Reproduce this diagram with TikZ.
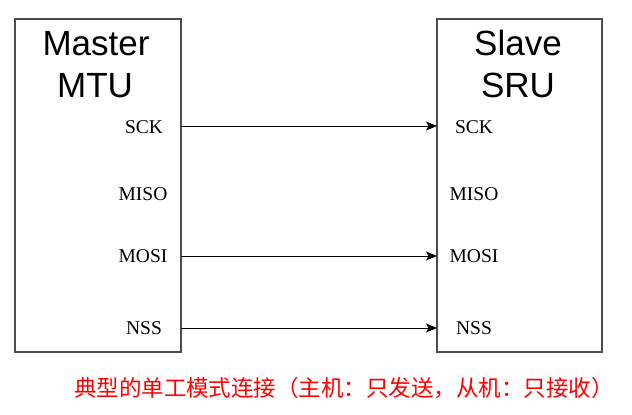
\documentclass[tikz,border=0pt]{standalone}
\usepackage{fontspec}
\setmainfont{Liberation Serif}
\newfontfamily\titlefont{Liberation Sans}
\newfontfamily\cjkfont{Noto Sans CJK SC}
\usetikzlibrary{arrows.meta}
\begin{document}
\begin{tikzpicture}[x=1pt,y=-1pt,
  unitbox/.style={draw=black!70,line width=1.3pt},
  titletext/.style={font=\titlefont\fontsize{35}{38}\selectfont,anchor=base,inner sep=0pt},
  pintext/.style={font=\fontsize{19.5}{22}\selectfont,anchor=base,inner sep=0pt},
  wire/.style={line width=1pt,-{Stealth[length=11pt,width=9pt,inset=2.5pt]}}]
\useasboundingbox (0,0) rectangle (632,415);
\draw[unitbox] (15,19) rectangle (181,352);
\draw[unitbox] (437,19) rectangle (602,352);
\node[titletext] (mt1) at (96,55) {Master};
\node[titletext] (mt2) at (95,97) {MTU};
\node[titletext] (st1) at (518,55) {Slave};
\node[titletext] (st2) at (518,97) {SRU};
\node[pintext] (msck) at (144,133) {SCK};
\node[pintext] (mmiso) at (143,200) {MISO};
\node[pintext] (mmosi) at (143,262) {MOSI};
\node[pintext] (mnss) at (144,334) {NSS};
\node[pintext] (ssck) at (474,133) {SCK};
\node[pintext] (smiso) at (474,200) {MISO};
\node[pintext] (smosi) at (474,262) {MOSI};
\node[pintext] (snss) at (474,334) {NSS};
\coordinate (a1) at (181,126);
\coordinate (b1) at (437,126);
\coordinate (a2) at (181,256);
\coordinate (b2) at (437,256);
\coordinate (a3) at (181,328);
\coordinate (b3) at (437,328);
\draw[wire] (a1) -- (b1);
\draw[wire] (a2) -- (b2);
\draw[wire] (a3) -- (b3);
\node[font=\cjkfont\fontsize{22.5}{26}\selectfont,text=red,inner sep=0pt] (cap) at (344,388) {典型的单工模式连接（主机：只发送，从机：只接收）};
\end{tikzpicture}
\end{document}
